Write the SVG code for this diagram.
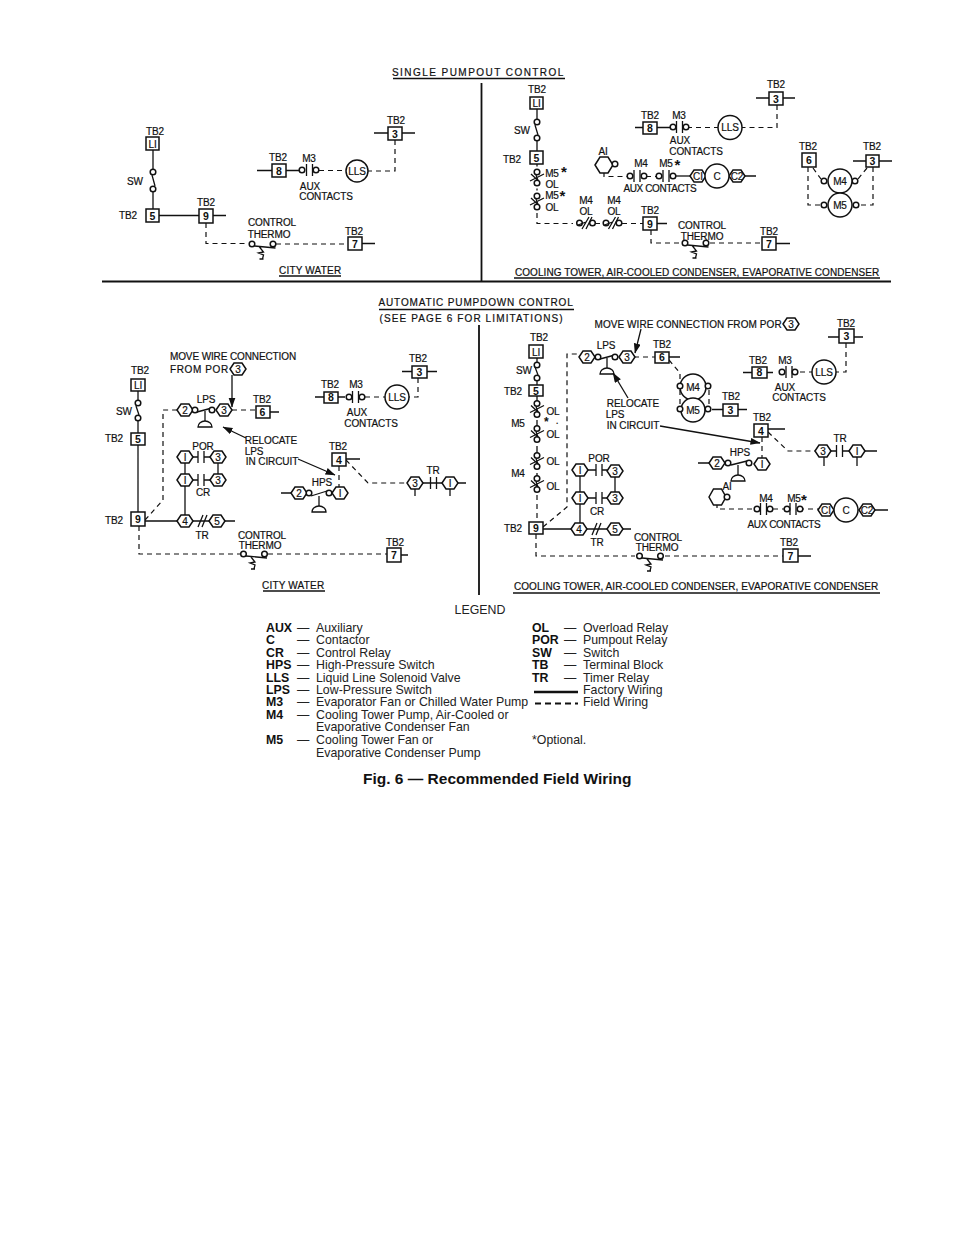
<svg xmlns="http://www.w3.org/2000/svg" width="954" height="1235" viewBox="0 0 954 1235">
<style>
text{font-family:"Liberation Sans",Arial,sans-serif;fill:#111}
.t{font-size:10px;text-anchor:middle;letter-spacing:-.1px;stroke:#111;stroke-width:.2}
.h{font-size:10px;text-anchor:middle;letter-spacing:.7px;stroke:#111;stroke-width:.2}
.n{font-size:10.5px;text-anchor:middle;font-weight:bold}
.l{font-size:12.35px;fill:#222}
.lb{font-size:12.35px;font-weight:bold}
.a{font-size:15px;font-weight:bold}
.w{fill:none;stroke:#111;stroke-width:1.3}
.d{fill:none;stroke:#111;stroke-width:1.2;stroke-dasharray:5 4}
.f{fill:none;stroke:#111;stroke-width:1.7}
.b{fill:#fff;stroke:#111;stroke-width:1.5}
.k{fill:#111;stroke:none}
</style>
<defs>
<polygon id="hex" points="-8,0 -4,-6 4,-6 8,0 4,6 -4,6" class="b"/>
<circle id="c" r="2.8" class="b"/>
<path id="bars" d="M-3,-6V6M3,-6V6" class="w"/>
<g id="ncv"><use href="#c" y="-5.5"/><use href="#c" y="5.5"/><path d="M-7,3.5L7,-3.5M-6,-3.5L1,3M-1,-2.5L1,3" class="w"/></g>
<g id="nch"><use href="#c" x="-6.5"/><use href="#c" x="6.5"/><path d="M-4,6L3,-6M0,6L6,-6M-8,2L0,-1" class="w"/></g>
<g id="thermo"><use href="#c" x="-10.5"/><use href="#c" x="10.5"/><path d="M-8,2L13,4M-3,3L1,8L-4,9L1,11L0,15M-3,15H1" class="w"/></g>
<g id="dome"><path d="M0,0V10" class="w"/><path d="M-7,16A7,6 0 0 1 7,16Z" class="w"/></g>
<marker id="ah" markerWidth="10" markerHeight="8" refX="9.5" refY="3.5" orient="auto" markerUnits="userSpaceOnUse"><path d="M0,0L10,3.5L0,7Z" class="k"/></marker>
</defs>

<g id="frame">
<path d="M102,281.5H891" stroke="#111" stroke-width="2" fill="none"/>
<path d="M481.5,83V281M479,325V595" stroke="#111" stroke-width="1.8" fill="none"/>
</g>

<g id="titles">
<text class="h" x="478" y="76" textLength="172">SINGLE  PUMPOUT  CONTROL</text><path d="M393,78.5H565" class="w"/>
<text class="t" x="310" y="273.5" textLength="62">CITY WATER</text><path d="M279,276H341" class="w"/>
<text class="t" x="697" y="275.5" textLength="364">COOLING TOWER, AIR-COOLED  CONDENSER, EVAPORATIVE CONDENSER</text><path d="M514,278H880" class="w"/>
<text class="h" x="476" y="306" textLength="195">AUTOMATIC PUMPDOWN CONTROL</text><path d="M379,309.5H574" class="f"/>
<text class="t" x="471" y="321.5" textLength="183">(SEE PAGE 6 FOR LIMITATIONS)</text>
<text class="t" x="293" y="588.5" textLength="62">CITY WATER</text><path d="M263,591H325" class="f"/>
<text class="t" x="696" y="589.5" textLength="364">COOLING TOWER, AIR-COOLED  CONDENSER, EVAPORATIVE CONDENSER</text><path d="M513,593H880" class="w"/>
</g>

<g id="connectors">
<!-- panel 1 -->
<path class="w" d="M153,150V169M152,175L155,186M153,192V209M159,215.5H199M213,215.5H226M362,243.5H375M257,170.5H272M286,170.5H299M374,133H388M402,133H415"/>
<path class="d" d="M206,223V243.5H246M276,244H348M395,140V171H368M319,170.5H346"/>
<!-- panel 2 -->
<path class="w" d="M537,109V119M535,125L538,135M537,141V151M537,164V166.5M537,188.5V190.5M635,127.5H643M657,127.5H670M756,98H769M783,98H795M657,223.5H667M776,243.5H790M853,161H866M879,161H892M743,176H756"/>
<path class="d" d="M537,213V223.5H573M595,223.5H603M622,223.5H643M651,230V243H681M710,243H762M777,105V127.5H742M687,127.5H718M604,172V176.5H628M646,176.5H657M813,168L821,179M867,168L858,179M808,167V205H821M873,167V205H859"/>
<!-- panel 3 -->
<path class="w" d="M138,391V400M136,406L139,415M138,421V433M138,445V512M145,521H177M225,521H235M315,397H324M338,397H345M402,371.5H412M427,371.5H437M270,412H279M346,459H360M281,493H292M466,483H423M444,483H430M415,489V496M450,489V496M185,515V486M185,474V463M218,474V463M193,457H198M204,457H210M193,480H198M204,480H210M401,555H408"/>
<path class="d" d="M145,520L163,500V410H178M232,410H256M139,526V554H240M268,554H387M339,466V487M346,460L368,483H407M418,378V397H409M365,397H385"/>
<!-- panel 4 -->
<path class="w" d="M537,358V362M535,367L538,375M537,381V385M537,396V403.5M537,420V428.5M537,446V455.5M537,473V478.5M543,529H572M623,529H631M828,337H839M854,337H863M743,372.5H752M767,372.5H773M669,357H680M712,409.5H723M738,409.5H747M768,429H785M698,463H710M863,451H877M830,451H836M843,451H850M824,457V466M857,457V466M580,476V492M615,477V492M588,470H596M602,470H607M588,498H596M602,498H607M580,504V523M798,556H811M874,510H888"/>
<path class="d" d="M537,495V522M543,527L567,507V354H580M634,357H655M669,360L680,373V383M680,390V406M709,390V406M536,534V556H635M665,556H783M762,437V458M768,432L788,451H816M846,343V372H836M800,372H812M717,503V509H754M773,509H784M799,509H819"/>
</g>

<g id="arrows">
<path class="w" marker-end="url(#ah)" d="M232,375V407"/>
<path class="w" marker-end="url(#ah)" d="M246,438L223,427"/>
<path class="w" marker-end="url(#ah)" d="M298,459L335,475"/>
<path class="w" marker-end="url(#ah)" d="M641,329L635,353"/>
<path class="w" marker-end="url(#ah)" d="M628,398L613,373"/>
<path class="w" marker-end="url(#ah)" d="M660,426L760,443"/>
</g>

<!-- PANEL 1 -->
<g id="p1-li"><rect class="b" x="146" y="137" width="13" height="13"/><text class="t" x="152.5" y="147.5">LI</text><text class="t" x="155" y="134.5">TB2</text></g>
<g id="p1-sw"><use href="#c" x="153" y="172"/><use href="#c" x="153" y="189"/><text class="t" x="135" y="184.5">SW</text></g>
<g id="p1-5"><rect class="b" x="146" y="209" width="13" height="13"/><text class="n" x="152.5" y="219.5">5</text><text class="t" x="128" y="218.5">TB2</text></g>
<g id="p1-9"><rect class="b" x="199" y="209" width="14" height="14"/><text class="n" x="206" y="219.5">9</text><text class="t" x="206" y="205.5">TB2</text></g>
<g id="p1-thermo"><use href="#thermo" x="262.5" y="244"/><text class="t" x="272" y="225.5">CONTROL</text><text class="t" x="269" y="237.5">THERMO</text></g>
<g id="p1-7"><rect class="b" x="348" y="237" width="14" height="13"/><text class="n" x="355" y="247.5">7</text><text class="t" x="354" y="234.5">TB2</text></g>
<g id="p1-3"><rect class="b" x="388" y="127" width="14" height="13"/><text class="n" x="395" y="137.5">3</text><text class="t" x="396" y="123.5">TB2</text></g>
<g id="p1-8"><rect class="b" x="272" y="164" width="14" height="13"/><text class="n" x="279" y="174.5">8</text><text class="t" x="278" y="160.5">TB2</text></g>
<g id="p1-m3"><use href="#bars" x="309.5" y="170"/><use href="#c" x="302" y="170"/><use href="#c" x="316" y="170"/><text class="t" x="309" y="161.5">M3</text><text class="t" x="310" y="189.5">AUX</text><text class="t" x="326" y="199.5">CONTACTS</text></g>
<g id="p1-lls"><circle class="b" cx="357" cy="171" r="11"/><text class="t" x="357" y="174.5">LLS</text></g>

<!-- PANEL 2 -->
<g id="p2-li"><rect class="b" x="530" y="97" width="13" height="12"/><text class="t" x="536.5" y="106.5">LI</text><text class="t" x="537" y="92.5">TB2</text></g>
<g id="p2-sw"><use href="#c" x="537" y="122"/><use href="#c" x="537" y="138"/><text class="t" x="522" y="133.5">SW</text></g>
<g id="p2-5"><rect class="b" x="530" y="151" width="13" height="13"/><text class="n" x="536.5" y="161.5">5</text><text class="t" x="512" y="162.5">TB2</text></g>
<g id="p2-m5a"><use href="#ncv" x="537" y="177.5"/><text class="t" x="552" y="176.5">M5</text><text class="a" x="561" y="176.5">*</text><text class="t" x="552" y="187.5">OL</text></g>
<g id="p2-m5b"><use href="#ncv" x="537" y="201.5"/><text class="t" x="552" y="198.5">M5</text><text class="a" x="559.5" y="200.5">*</text><text class="t" x="552" y="210.5">OL</text></g>
<g id="p2-m4a"><use href="#nch" x="586" y="223"/><text class="t" x="586" y="203.5">M4</text><text class="t" x="586" y="214.5">OL</text></g>
<g id="p2-m4b"><use href="#nch" x="612.5" y="223"/><text class="t" x="614" y="203.5">M4</text><text class="t" x="614" y="214.5">OL</text></g>
<g id="p2-9"><rect class="b" x="643" y="217" width="14" height="13"/><text class="n" x="650" y="227.5">9</text><text class="t" x="650" y="213.5">TB2</text></g>
<g id="p2-thermo"><use href="#thermo" x="695.5" y="243"/><text class="t" x="702" y="228.5">CONTROL</text><text class="t" x="702" y="239.5">THERMO</text></g>
<g id="p2-7"><rect class="b" x="762" y="237" width="14" height="13"/><text class="n" x="769" y="247.5">7</text><text class="t" x="769" y="234.5">TB2</text></g>
<g id="p2-3"><rect class="b" x="769" y="92" width="14" height="13"/><text class="n" x="776" y="102.5">3</text><text class="t" x="776" y="87.5">TB2</text></g>
<g id="p2-8"><rect class="b" x="643" y="122" width="14" height="12"/><text class="n" x="650" y="131.5">8</text><text class="t" x="650" y="118.5">TB2</text></g>
<g id="p2-m3"><use href="#bars" x="679.5" y="127"/><use href="#c" x="673" y="127"/><use href="#c" x="686" y="127"/><text class="t" x="679" y="118.5">M3</text><text class="t" x="680" y="143.5">AUX</text><text class="t" x="696" y="154.5">CONTACTS</text></g>
<g id="p2-lls"><circle class="b" cx="730" cy="127.5" r="12"/><text class="t" x="730" y="131">LLS</text></g>
<g id="p2-a1"><polygon class="b" points="595,165 600,157 608,157 613,165 608,173 600,173"/><use href="#c" x="615" y="164"/><text class="t" x="603" y="155">AI</text></g>
<g id="p2-aux"><use href="#bars" x="637" y="176"/><use href="#c" x="630" y="176"/><use href="#c" x="644" y="176"/><use href="#bars" x="666" y="176"/><use href="#c" x="659" y="176"/><use href="#c" x="673" y="176"/><text class="t" x="641" y="166.5">M4</text><text class="t" x="666" y="166.5">M5</text><text class="a" x="674.5" y="170">*</text><text class="t" x="660" y="191.5" textLength="73">AUX  CONTACTS</text></g>
<g id="p2-c"><path class="w" d="M676,176H691"/><use href="#hex" x="698" y="176"/><use href="#hex" x="737" y="176"/><circle class="b" cx="717" cy="176" r="12"/><text class="t" x="698" y="179.5">CI</text><text class="t" x="717" y="179.5">C</text><text class="t" x="737" y="179.5">C2</text></g>
<g id="p2-6"><rect class="b" x="802" y="153" width="14" height="14"/><text class="n" x="809" y="163.5">6</text><text class="t" x="808" y="149.5">TB2</text></g>
<g id="p2-3b"><rect class="b" x="866" y="155" width="13" height="12"/><text class="n" x="872.5" y="164.5">3</text><text class="t" x="872" y="149.5">TB2</text></g>
<g id="p2-m4"><use href="#c" x="824" y="181"/><use href="#c" x="855" y="181"/><circle class="b" cx="840" cy="181" r="12"/><text class="t" x="840" y="184.5">M4</text></g>
<g id="p2-m5"><use href="#c" x="824" y="205"/><use href="#c" x="856" y="205"/><circle class="b" cx="840" cy="205" r="12"/><text class="t" x="840" y="208.5">M5</text></g>

<!-- PANEL 3 -->
<g id="p3-note"><text class="t" x="233" y="359.5" textLength="126">MOVE WIRE CONNECTION</text><text class="t" x="199" y="372.5" textLength="58">FROM  POR</text><polygon class="b" points="230,369 234,363 242,363 246,369 242,375 234,375"/><text class="t" x="238" y="372.5">3</text></g>
<g id="p3-li"><rect class="b" x="131" y="379" width="14" height="12"/><text class="t" x="138" y="388.5">LI</text><text class="t" x="140" y="373.5">TB2</text></g>
<g id="p3-sw"><use href="#c" x="138" y="403"/><use href="#c" x="138" y="418"/><text class="t" x="124" y="414.5">SW</text></g>
<g id="p3-5"><rect class="b" x="131" y="433" width="14" height="12"/><text class="n" x="138" y="442.5">5</text><text class="t" x="114" y="441.5">TB2</text></g>
<g id="p3-9"><rect class="b" x="131" y="512" width="14" height="14"/><text class="n" x="138" y="522.5">9</text><text class="t" x="114" y="523.5">TB2</text></g>
<g id="p3-lps"><use href="#dome" x="205" y="411"/><path class="w" d="M197,412L212,408"/><use href="#hex" x="185" y="410"/><use href="#c" x="195" y="410"/><use href="#c" x="212" y="410"/><use href="#hex" x="224" y="410"/><text class="t" x="185" y="413.5">2</text><text class="t" x="224" y="413.5">3</text><text class="t" x="206" y="402.5">LPS</text></g>
<g id="p3-6"><rect class="b" x="256" y="406" width="14" height="12"/><text class="n" x="262.5" y="415.5">6</text><text class="t" x="262" y="402.5">TB2</text></g>
<g id="p3-reloc"><text class="t" x="271" y="443.5">RELOCATE</text><text class="t" x="254" y="454.5">LPS</text><text class="t" x="272" y="464.5">IN CIRCUIT</text></g>
<g id="p3-por"><use href="#bars" x="201" y="457"/><use href="#hex" x="185" y="457"/><use href="#hex" x="218" y="457"/><text class="t" x="185" y="460.5">I</text><text class="t" x="218" y="460.5">3</text><text class="t" x="203" y="449.5">POR</text></g>
<g id="p3-cr"><use href="#bars" x="201" y="480"/><use href="#hex" x="185" y="480"/><use href="#hex" x="218" y="480"/><text class="t" x="185" y="483.5">I</text><text class="t" x="218" y="483.5">3</text><text class="t" x="203" y="495.5">CR</text></g>
<g id="p3-tr"><path class="w" d="M193,521H209M198,527L203,515M202,527L207,515"/><use href="#hex" x="185" y="521"/><use href="#hex" x="217" y="521"/><text class="t" x="185" y="524.5">4</text><text class="t" x="217" y="524.5">5</text><text class="t" x="202" y="538.5">TR</text></g>
<g id="p3-thermo"><use href="#thermo" x="254" y="554"/><text class="t" x="262" y="538.5">CONTROL</text><text class="t" x="260" y="548.5">THERMO</text></g>
<g id="p3-7"><rect class="b" x="387" y="548" width="14" height="14"/><text class="n" x="394" y="558.5">7</text><text class="t" x="395" y="546">TB2</text></g>
<g id="p3-3"><rect class="b" x="412" y="366" width="15" height="12"/><text class="n" x="419.5" y="375.5">3</text><text class="t" x="418" y="361.5">TB2</text></g>
<g id="p3-8"><rect class="b" x="324" y="392" width="14" height="11"/><text class="n" x="331" y="401">8</text><text class="t" x="330" y="387.5">TB2</text></g>
<g id="p3-m3"><use href="#bars" x="355.5" y="397"/><use href="#c" x="349" y="397"/><use href="#c" x="362" y="397"/><text class="t" x="356" y="387.5">M3</text><text class="t" x="357" y="415.5">AUX</text><text class="t" x="371" y="426.5">CONTACTS</text></g>
<g id="p3-lls"><circle class="b" cx="397" cy="397" r="12"/><text class="t" x="397" y="400.5">LLS</text></g>
<g id="p3-4"><rect class="b" x="332" y="453" width="14" height="13"/><text class="n" x="339" y="463.5">4</text><text class="t" x="338" y="449.5">TB2</text></g>
<g id="p3-hps"><use href="#dome" x="319" y="496"/><path class="w" d="M311,496L327,491"/><use href="#hex" x="299" y="493"/><use href="#hex" x="340" y="493"/><use href="#c" x="309" y="493"/><use href="#c" x="329" y="493"/><text class="t" x="299" y="496.5">2</text><text class="t" x="340" y="496.5">I</text><text class="t" x="322" y="485.5">HPS</text></g>
<g id="p3-trb"><use href="#bars" x="433.5" y="483"/><use href="#hex" x="415" y="483"/><use href="#hex" x="450" y="483"/><text class="t" x="415" y="486.5">3</text><text class="t" x="450" y="486.5">I</text><text class="t" x="433" y="473.5">TR</text></g>

<!-- PANEL 4 -->
<g id="p4-note"><text class="t" x="688" y="327.5" textLength="187">MOVE WIRE CONNECTION FROM POR</text><polygon class="b" points="783,324 787,318 795,318 799,324 795,330 787,330"/><text class="t" x="791" y="327.5">3</text></g>
<g id="p4-li"><rect class="b" x="529" y="345" width="14" height="13"/><text class="t" x="536" y="355.5">LI</text><text class="t" x="539" y="340.5">TB2</text></g>
<g id="p4-sw"><use href="#c" x="537" y="365"/><use href="#c" x="537" y="378"/><text class="t" x="524" y="373.5">SW</text></g>
<g id="p4-5"><rect class="b" x="529" y="385" width="14" height="11"/><text class="n" x="536" y="394.5">5</text><text class="t" x="513" y="394.5">TB2</text></g>
<g id="p4-ol1"><use href="#ncv" x="537" y="409"/><text class="t" x="553" y="414.5">OL</text></g>
<g id="p4-ol2"><use href="#ncv" x="537" y="434"/><text class="t" x="553" y="437.5">OL</text></g>
<g id="p4-ol3"><use href="#ncv" x="537" y="461"/><text class="t" x="553" y="464.5">OL</text></g>
<g id="p4-ol4"><use href="#ncv" x="537" y="484"/><text class="t" x="553" y="489.5">OL</text></g>
<g id="p4-m"><text class="t" x="518" y="426.5">M5</text><text x="544" y="425.5" style="font-size:12px;font-weight:bold">*</text><text class="t" x="557" y="424">.</text><text class="t" x="518" y="476.5">M4</text></g>
<g id="p4-9"><rect class="b" x="529" y="522" width="14" height="12"/><text class="n" x="536" y="531.5">9</text><text class="t" x="513" y="531.5">TB2</text></g>
<g id="p4-lps"><use href="#dome" x="607" y="358"/><path class="w" d="M600,359L615,355"/><use href="#hex" x="587" y="357"/><use href="#c" x="598" y="357"/><use href="#c" x="615" y="357"/><use href="#hex" x="627" y="357"/><text class="t" x="587" y="360.5">2</text><text class="t" x="627" y="360.5">3</text><text class="t" x="606" y="348.5">LPS</text></g>
<g id="p4-6"><rect class="b" x="655" y="352" width="14" height="11"/><text class="n" x="662" y="361">6</text><text class="t" x="662" y="347.5">TB2</text></g>
<g id="p4-m4"><circle class="b" cx="693" cy="387" r="13"/><use href="#c" x="680" y="386"/><use href="#c" x="708" y="386"/><text class="t" x="693" y="390.5">M4</text></g>
<g id="p4-m5"><circle class="b" cx="693" cy="410" r="12"/><use href="#c" x="680" y="409"/><use href="#c" x="708" y="409"/><text class="t" x="693" y="413.5">M5</text></g>
<g id="p4-3b"><rect class="b" x="723" y="404" width="15" height="12"/><text class="n" x="730.5" y="413.5">3</text><text class="t" x="731" y="399.5">TB2</text></g>
<g id="p4-reloc"><text class="t" x="633" y="406.5">RELOCATE</text><text class="t" x="615" y="417.5">LPS</text><text class="t" x="633" y="428.5">IN CIRCUIT</text></g>
<g id="p4-4"><rect class="b" x="754" y="424" width="14" height="13"/><text class="n" x="761" y="434.5">4</text><text class="t" x="762" y="420.5">TB2</text></g>
<g id="p4-hps"><use href="#dome" x="738" y="465"/><path class="w" d="M731,465L747,461"/><use href="#hex" x="717" y="463"/><use href="#hex" x="762" y="464"/><use href="#c" x="728" y="463"/><use href="#c" x="749" y="463"/><text class="t" x="717" y="466.5">2</text><text class="t" x="762" y="467.5">I</text><text class="t" x="740" y="455.5">HPS</text></g>
<g id="p4-trb"><use href="#bars" x="839.5" y="451"/><use href="#hex" x="823" y="451"/><use href="#hex" x="857" y="451"/><text class="t" x="823" y="454.5">3</text><text class="t" x="857" y="454.5">I</text><text class="t" x="840" y="441.5">TR</text></g>
<g id="p4-3"><rect class="b" x="839" y="329" width="15" height="14"/><text class="n" x="846.5" y="340">3</text><text class="t" x="846" y="326.5">TB2</text></g>
<g id="p4-8"><rect class="b" x="752" y="367" width="15" height="11"/><text class="n" x="759.5" y="376">8</text><text class="t" x="758" y="363.5">TB2</text></g>
<g id="p4-m3"><use href="#bars" x="789" y="372"/><use href="#c" x="782" y="372"/><use href="#c" x="795" y="372"/><text class="t" x="785" y="363.5">M3</text><text class="t" x="785" y="390.5">AUX</text><text class="t" x="799" y="400.5">CONTACTS</text></g>
<g id="p4-lls"><circle class="b" cx="824" cy="372" r="12"/><text class="t" x="824" y="375.5">LLS</text></g>
<g id="p4-por"><use href="#bars" x="599" y="470"/><use href="#hex" x="580" y="470"/><use href="#hex" x="615" y="471"/><text class="t" x="580" y="473.5">I</text><text class="t" x="615" y="474.5">3</text><text class="t" x="599" y="461.5">POR</text></g>
<g id="p4-cr"><use href="#bars" x="599" y="498"/><use href="#hex" x="580" y="498"/><use href="#hex" x="615" y="498"/><text class="t" x="580" y="501.5">I</text><text class="t" x="615" y="501.5">3</text><text class="t" x="597" y="514.5">CR</text></g>
<g id="p4-tr"><path class="w" d="M586,529H608M592,535L597,523M596,535L601,523"/><use href="#hex" x="579" y="529"/><use href="#hex" x="615" y="529"/><text class="t" x="579" y="532.5">4</text><text class="t" x="615" y="532.5">5</text><text class="t" x="597" y="545.5">TR</text></g>
<g id="p4-a1"><polygon class="b" points="709,497 713.5,489 721.5,489 726,497 721.5,505 713.5,505"/><use href="#c" x="727" y="497"/><text class="t" x="727" y="489.5">AI</text></g>
<g id="p4-aux"><use href="#bars" x="763.5" y="509"/><use href="#c" x="757" y="509"/><use href="#c" x="770" y="509"/><use href="#bars" x="793" y="509"/><use href="#c" x="787" y="509"/><use href="#c" x="800" y="509"/><text class="t" x="766" y="501.5">M4</text><text class="t" x="794" y="501.5">M5</text><text class="a" x="801" y="505">*</text><text class="t" x="784" y="527.5" textLength="73">AUX  CONTACTS</text></g>
<g id="p4-c"><use href="#hex" x="826" y="510"/><use href="#hex" x="867" y="510"/><circle class="b" cx="846" cy="510" r="12"/><text class="t" x="826" y="513.5">CI</text><text class="t" x="846" y="513.5">C</text><text class="t" x="867" y="513.5">C2</text></g>
<g id="p4-thermo"><use href="#thermo" x="650" y="556"/><text class="t" x="658" y="540.5">CONTROL</text><text class="t" x="657" y="550.5">THERMO</text></g>
<g id="p4-7"><rect class="b" x="783" y="549" width="15" height="13"/><text class="n" x="790.5" y="559.5">7</text><text class="t" x="789" y="545.5">TB2</text></g>

<g id="legend">
<text class="l" x="480" y="614" text-anchor="middle">LEGEND</text>
<text class="lb" x="266" y="631.5">AUX</text><text class="lb" x="266" y="644">C</text><text class="lb" x="266" y="656.5">CR</text><text class="lb" x="266" y="669">HPS</text><text class="lb" x="266" y="681.5">LLS</text><text class="lb" x="266" y="694">LPS</text><text class="lb" x="266" y="706">M3</text><text class="lb" x="266" y="718.5">M4</text><text class="lb" x="266" y="744">M5</text>
<text class="l" x="297" y="631.5">—</text><text class="l" x="297" y="644">—</text><text class="l" x="297" y="656.5">—</text><text class="l" x="297" y="669">—</text><text class="l" x="297" y="681.5">—</text><text class="l" x="297" y="694">—</text><text class="l" x="297" y="706">—</text><text class="l" x="297" y="718.5">—</text><text class="l" x="297" y="744">—</text>
<text class="l" x="316" y="631.5">Auxiliary</text><text class="l" x="316" y="644">Contactor</text><text class="l" x="316" y="656.5">Control Relay</text><text class="l" x="316" y="669">High-Pressure Switch</text><text class="l" x="316" y="681.5">Liquid Line Solenoid Valve</text><text class="l" x="316" y="694">Low-Pressure Switch</text><text class="l" x="316" y="706">Evaporator Fan or Chilled Water Pump</text><text class="l" x="316" y="718.5">Cooling Tower Pump, Air-Cooled or</text><text class="l" x="316" y="731">Evaporative Condenser Fan</text><text class="l" x="316" y="744">Cooling Tower Fan or</text><text class="l" x="316" y="756.5">Evaporative Condenser Pump</text>
<text class="lb" x="532" y="631.5">OL</text><text class="lb" x="532" y="644">POR</text><text class="lb" x="532" y="656.5">SW</text><text class="lb" x="532" y="669">TB</text><text class="lb" x="532" y="681.5">TR</text>
<text class="l" x="564" y="631.5">—</text><text class="l" x="564" y="644">—</text><text class="l" x="564" y="656.5">—</text><text class="l" x="564" y="669">—</text><text class="l" x="564" y="681.5">—</text>
<text class="l" x="583" y="631.5">Overload Relay</text><text class="l" x="583" y="644">Pumpout Relay</text><text class="l" x="583" y="656.5">Switch</text><text class="l" x="583" y="669">Terminal Block</text><text class="l" x="583" y="681.5">Timer Relay</text><text class="l" x="583" y="694">Factory Wiring</text><text class="l" x="583" y="706">Field Wiring</text><text class="l" x="532" y="744">*Optional.</text>
<path d="M534,692H578" stroke="#111" stroke-width="2.4" fill="none"/>
<path d="M535,703.5H578" stroke="#111" stroke-width="2" stroke-dasharray="6 4" fill="none"/>
<text x="363" y="784" style="font-size:15.5px;font-weight:bold">Fig. 6 — Recommended Field Wiring</text>
</g>
</svg>
